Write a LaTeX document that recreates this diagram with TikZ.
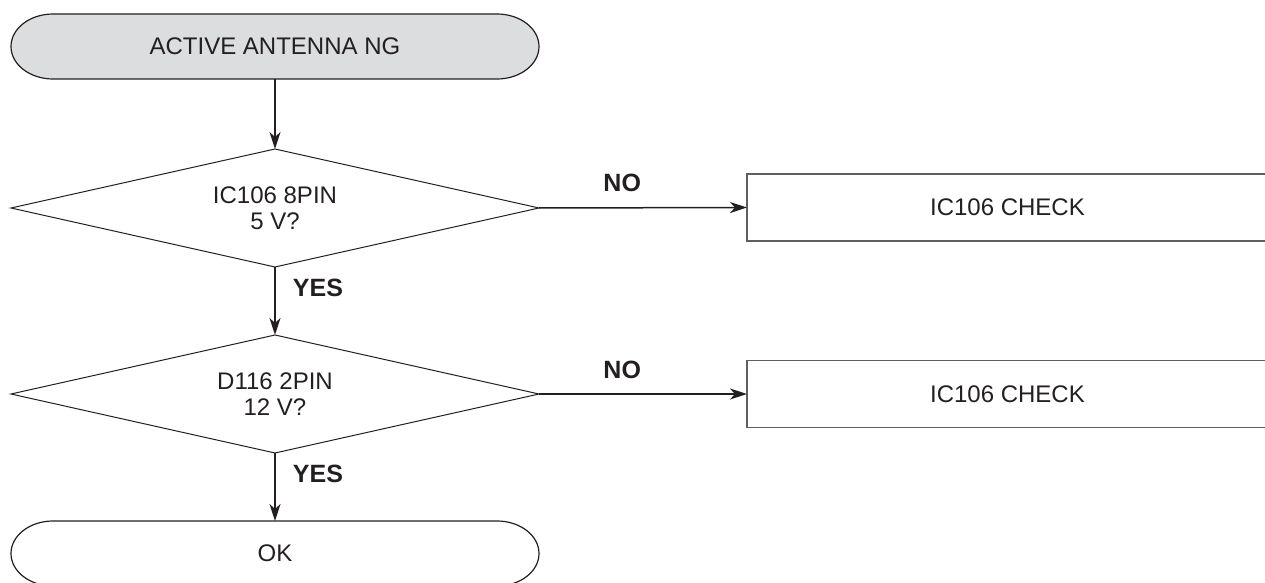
\documentclass[tikz,border=0pt]{standalone}
\usepackage{fontspec}
\setmainfont{Liberation Sans}
\usetikzlibrary{arrows.meta,shapes.geometric}
\definecolor{ink}{RGB}{35,31,32}
\definecolor{termfill}{RGB}{220,221,223}
\definecolor{boxline}{RGB}{95,95,95}
\tikzset{
  txt/.style={font=\fontsize{12}{13}\selectfont, text=ink, align=center},
  terminal/.style={txt, rectangle, minimum width=264pt, minimum height=32.5pt, inner sep=0pt, outer sep=0pt},
  termline/.style={draw=ink, line width=0.6pt},
  decision/.style={txt, diamond, shape aspect=4.475, draw=ink, line width=0.5pt, minimum width=264pt, minimum height=59pt, inner sep=0pt, outer sep=0pt},
  checkbox/.style={txt, rectangle, draw=boxline, line width=0.8pt, minimum width=260.5pt, minimum height=33.5pt, inner sep=0pt, outer sep=0pt, anchor=west},
  arr/.style={draw=ink, line width=0.75pt, -{Stealth[length=8.5pt,width=5.5pt,inset=2.5pt]}},
  lbl/.style={font=\fontsize{12.5}{13}\selectfont\bfseries, text=ink, inner sep=0pt}
}
% outline of a terminal with elliptical ends
\newcommand{\termoutline}[2]{%
  \path[termline,#2] ([xshift=21pt]#1.north west) -- ([xshift=-21pt]#1.north east)
    arc[start angle=90, end angle=-90, x radius=21pt, y radius=16.25pt]
    -- ([xshift=21pt]#1.south west)
    arc[start angle=270, end angle=90, x radius=21pt, y radius=16.25pt] -- cycle;}
\begin{document}
\begin{tikzpicture}[x=0.5pt,y=-0.5pt]
\useasboundingbox (0,0) rectangle (1265,583);
% start terminal
\node[terminal] (start) at (275,46.5) {};
\termoutline{start}{fill=termfill}
\node[txt] (starttext) at (start.center) {ACTIVE ANTENNA NG};
% decisions
\node[decision] (d1) at (275,208) {IC106 8PIN\\5 V?};
\node[decision] (d2) at (275,394) {D116 2PIN\\12 V?};
% check boxes
\node[checkbox] (c1) at (747,207.5) {IC106 CHECK};
\node[checkbox] (c2) at (747,394) {IC106 CHECK};
% end terminal
\node[terminal] (ok) at (275,553.5) {};
\termoutline{ok}{fill=white}
\node[txt] (oktext) at (ok.center) {OK};
% connectors
\draw[arr] (start.south) -- (d1.north);
\draw[arr] (d1.south) -- node[lbl, pos=0.31, xshift=21.5pt] (yes1) {YES} (d2.north);
\draw[arr] (d2.south) -- node[lbl, pos=0.31, xshift=21.5pt] (yes2) {YES} (ok.north);
\draw[arr] (d1.east) -- node[lbl, pos=0.4, yshift=12.25pt] (no1) {NO} (c1.west);
\draw[arr] (d2.east) -- node[lbl, pos=0.4, yshift=12.25pt] (no2) {NO} (c2.west);
\end{tikzpicture}
\end{document}
